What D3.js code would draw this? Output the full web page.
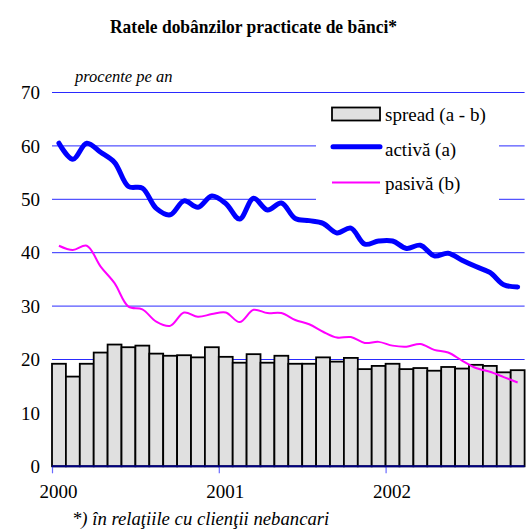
<!DOCTYPE html>
<html>
<head>
<meta charset="utf-8">
<script src="https://cdn.jsdelivr.net/npm/d3@7"></script>
<style>
  body { margin: 0; background: #fff; }
  svg { display: block; }
  svg text { font-family: "Liberation Serif", "Times New Roman", serif; fill: #000; }
</style>
</head>
<body>
<svg id="chart" width="531" height="531"></svg>
<script>
// monthly, Jan 2000 - Oct 2002
const months = d3.range(34).map(i => `${2000 + Math.floor(i / 12)}-${String(i % 12 + 1).padStart(2, '0')}`);
const spread = [19.2, 16.8, 19.2, 21.3, 22.8, 22.3, 22.6, 21.1, 20.7, 20.8, 20.4, 22.3,
  20.5, 19.4, 21.0, 19.4, 20.7, 19.2, 19.2, 20.4, 19.6, 20.3, 18.2, 18.8,
  19.2, 18.2, 18.4, 17.9, 18.6, 18.3, 19.0, 18.8, 17.6, 18.0];
const activa = [60.5, 57.5, 60.5, 58.8, 56.9, 52.4, 52.1, 48.3, 47.1, 49.7, 48.5, 50.6,
  49.2, 46.3, 50.2, 48.0, 49.3, 46.4, 46.0, 45.5, 43.7, 44.6, 41.6, 42.2,
  42.2, 40.8, 41.4, 39.4, 39.9, 38.6, 37.4, 36.3, 34.0, 33.6];
const pasiva = [41.3, 40.5, 41.3, 37.4, 34.3, 29.9, 29.4, 27.1, 26.3, 28.8, 28.0, 28.5,
  28.8, 27.0, 29.3, 28.7, 28.7, 27.4, 26.6, 25.2, 24.1, 24.2, 23.1, 23.3,
  22.6, 22.4, 22.9, 21.8, 21.3, 19.8, 18.4, 17.7, 16.7, 15.7];
const yTicks = [0, 10, 20, 30, 40, 50, 60, 70];
const yearTicks = [0, 12, 24];
const yearLabels = ['2000', '2001', '2002'];

const svg = d3.select('#chart');
const plotLeft = 52, plotRight = 524.6, plotTop = 92.5, plotBottom = 466.3;

const x = d3.scaleBand().domain(months).range([plotLeft, plotRight]).padding(0);
const xm = d3.scaleLinear().domain([0, months.length]).range([plotLeft, plotRight]);
const y = d3.scaleLinear().domain([0, 70]).range([plotBottom, plotTop]);

// title
svg.append('text')
  .attr('x', 110).attr('y', 33)
  .attr('textLength', 287).attr('lengthAdjust', 'spacingAndGlyphs')
  .style('font-weight', 'bold').style('font-size', '19px')
  .text('Ratele dobânzilor practicate de bănci*');

svg.append('text')
  .attr('x', 75).attr('y', 82)
  .style('font-style', 'italic').style('font-size', '16.5px')
  .text('procente pe an');

// gridlines
svg.append('g')
  .selectAll('line')
  .data(yTicks.filter(d => d > 0))
  .join('line')
  .attr('x1', plotLeft).attr('x2', plotRight)
  .attr('y1', d => y(d)).attr('y2', d => y(d))
  .style('stroke', '#2a2aff').style('stroke-width', 1);

// y labels
svg.append('g')
  .selectAll('text')
  .data(yTicks)
  .join('text')
  .attr('x', 40).attr('y', d => y(d))
  .attr('dy', '0.35em')
  .attr('text-anchor', 'end')
  .style('font-size', '19px')
  .text(d => d);

// bars
svg.append('g')
  .selectAll('rect')
  .data(spread)
  .join('rect')
  .attr('x', (d, i) => x(months[i]))
  .attr('y', d => y(d))
  .attr('width', x.bandwidth())
  .attr('height', d => y(0) - y(d))
  .style('fill', '#e0e0e0')
  .style('stroke', '#000')
  .style('stroke-width', 1.8);

// x axis
const xAxis = d3.axisBottom(xm)
  .tickValues(yearTicks)
  .tickSize(7)
  .tickFormat((d, i) => yearLabels[i]);
const gx = svg.append('g')
  .attr('transform', `translate(0, ${plotBottom})`)
  .call(xAxis);
gx.select('.domain').remove();
gx.selectAll('.tick line').style('stroke', '#6a6aff').style('stroke-width', 1.2);
gx.selectAll('.tick text')
  .attr('x', 6)
  .attr('y', 18)
  .style('font-size', '19px')
  .style('fill', '#000');
svg.append('line')
  .attr('x1', plotLeft).attr('x2', plotRight)
  .attr('y1', plotBottom).attr('y2', plotBottom)
  .style('stroke', '#000080').style('stroke-width', 2);

// legend box (covers gridlines)
const lg = svg.append('g');
lg.append('rect')
  .attr('x', 316).attr('y', 100).attr('width', 183).attr('height', 104)
  .style('fill', '#fff');
lg.append('rect')
  .attr('x', 332).attr('y', 107.5).attr('width', 48).attr('height', 13)
  .style('fill', '#e0e0e0').style('stroke', '#000').style('stroke-width', 1.8);
lg.append('line')
  .attr('x1', 333).attr('x2', 380).attr('y1', 146.8).attr('y2', 146.8)
  .style('stroke', '#0000ff').style('stroke-width', 5).style('stroke-linecap', 'round');
lg.append('line')
  .attr('x1', 332).attr('x2', 380).attr('y1', 182.5).attr('y2', 182.5)
  .style('stroke', '#ff00ff').style('stroke-width', 2);
const legendText = ['spread (a - b)', 'activă (a)', 'pasivă (b)'];
lg.selectAll('text.leg')
  .data(legendText)
  .join('text')
  .attr('class', 'leg')
  .attr('x', 385).attr('y', (d, i) => 121 + i * 34.5)
  .style('font-size', '19px')
  .text(d => d);

// lines
const line = d3.line()
  .x((d, i) => x(months[i]) + x.bandwidth() / 2)
  .y(d => y(d))
  .curve(d3.curveCatmullRom.alpha(0.5));

svg.append('path')
  .datum(pasiva)
  .attr('d', line)
  .style('fill', 'none').style('stroke', '#ff00ff').style('stroke-width', 2);

svg.append('path')
  .datum(activa)
  .attr('d', line)
  .style('fill', 'none').style('stroke', '#0000ff').style('stroke-width', 5)
  .style('stroke-linejoin', 'round').style('stroke-linecap', 'round');

// footnote
svg.append('text')
  .attr('x', 72).attr('y', 525)
  .style('font-style', 'italic').style('font-size', '18.7px')
  .text('*) în relaţiile cu clienţii nebancari');
</script>
</body>
</html>
